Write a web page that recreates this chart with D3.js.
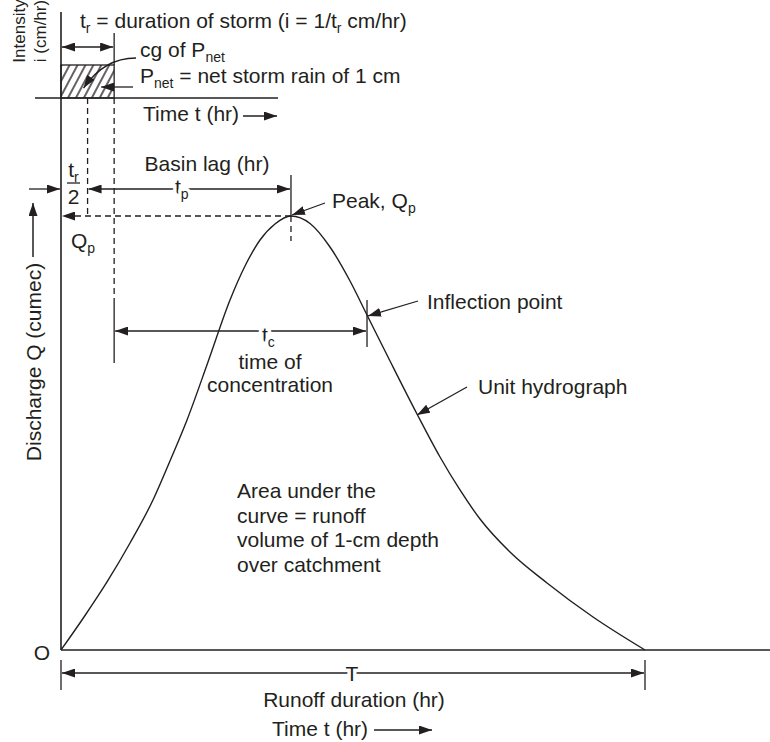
<!DOCTYPE html>
<html><head><meta charset="utf-8">
<script src="https://cdn.jsdelivr.net/npm/d3@7"></script>
<style>
body{margin:0;background:#fff}
svg{display:block}
text{font-family:"Liberation Sans",Arial,Helvetica,sans-serif;fill:#231f20}
</style>
</head><body><svg id="c" width="770" height="742"></svg>
<script>
// ---- data ----
const hydroT = [0, 3.94, 7.88, 11.82, 15.75, 18.66, 21.58, 25.17, 28.94, 31.51, 34.08, 36.64, 39.38,
  42.64, 46.06, 49.49, 52.40, 56.34, 60.96, 64.90, 68.32, 71.75, 76.88, 83.22, 91.10, 100];
const hydroQ = [0, 7.60, 15.67, 24.65, 34.56, 43.55, 53.00, 66.36, 80.65, 88.48, 94.47, 98.16, 100,
  98.27, 92.86, 85.02, 77.19, 66.59, 54.38, 44.47, 36.87, 30.18, 22.58, 15.44, 7.60, 0];
const stormDuration = 9.1;      // t_r
const stormIntensity = 1;       // i = 1/t_r
const peakTime = 39.38;
const peakQ = 100;
const inflectionTime = 52.4;
const inflectionQ = 77.19;
const runoffDuration = 100;     // T
const areaLines = ["Area under the", "curve = runoff", "volume of 1-cm depth", "over catchment"];

// ---- scales ----
const x = d3.scaleLinear().domain([0, 100]).range([61, 645]);
const yQ = d3.scaleLinear().domain([0, 100]).range([650, 216]);
const yI = d3.scaleLinear().domain([0, 1]).range([98, 65]);

const INK = "#231f20";
const FS = 21;
const svg = d3.select("#c");
const defs = svg.append("defs");
defs.append("marker").attr("id", "ah")
  .attr("viewBox", "0 0 13 9").attr("refX", 13).attr("refY", 4.5)
  .attr("markerWidth", 13).attr("markerHeight", 9)
  .attr("markerUnits", "userSpaceOnUse").attr("orient", "auto-start-reverse")
  .append("path").attr("d", "M0,0L13,4.5L0,9Z").attr("fill", INK);
const pat = defs.append("pattern").attr("id", "hatch")
  .attr("patternUnits", "userSpaceOnUse").attr("width", 7).attr("height", 10)
  .attr("patternTransform", "rotate(28)");
pat.append("line").attr("x1", 1).attr("y1", 0).attr("x2", 1).attr("y2", 10)
  .attr("stroke", INK).attr("stroke-width", 1.4);

function line(x1, y1, x2, y2, o = {}) {
  const l = svg.append("line").attr("x1", x1).attr("y1", y1).attr("x2", x2).attr("y2", y2)
    .attr("stroke", INK).attr("stroke-width", o.w || 1.3);
  if (o.dash) l.attr("stroke-dasharray", o.dash);
  if (o.start) l.attr("marker-start", "url(#ah)");
  if (o.end) l.attr("marker-end", "url(#ah)");
  return l;
}
function label(px, py, parts, o = {}) {
  const t = svg.append("text").attr("x", px).attr("y", py)
    .attr("font-size", o.size || FS).attr("text-anchor", o.anchor || "start");
  if (o.rotate) t.attr("transform", `rotate(${o.rotate},${px},${py})`);
  if (o.halo) t.attr("stroke", "#fff").attr("stroke-width", 7).attr("paint-order", "stroke").attr("stroke-linejoin", "round");
  let sub = false;
  parts.forEach(p => {
    const isSub = Array.isArray(p);
    const s = t.append("tspan").text(isSub ? p[0] : p);
    if (isSub && !sub) { s.attr("dy", 5).attr("font-size", 14); sub = true; }
    else if (isSub) { s.attr("font-size", 14); }
    else if (sub) { s.attr("dy", -5); sub = false; }
  });
  return t;
}

// ---- hyetograph (top) ----
const x0 = x(0), xr = x(stormDuration), xh = x(stormDuration / 2);
svg.append("rect").attr("x", x0).attr("y", yI(stormIntensity))
  .attr("width", xr - x0).attr("height", yI(0) - yI(stormIntensity))
  .attr("fill", "url(#hatch)").attr("stroke", INK).attr("stroke-width", 1.3);
line(35, yI(0), 278, yI(0), { w: 1.5 });
line(xr, 33, xr, yI(stormIntensity));
line(x0 + 1, 47, xr - 1, 47, { start: true, end: true });
label(80, 28, ["t", ["r"], " = duration of storm (i = 1/t", ["r"], " cm/hr)"]);
label(140, 57, ["cg of P", ["net"]]);
label(140, 83, ["P", ["net"], " = net storm rain of 1 cm"]);
label(143, 121, ["Time t (hr)"]);
line(243, 116, 277, 116, { end: true, w: 1.5 });
svg.append("path").attr("d", `M136,58 Q104,58 ${xh - 4},${yI(0.3)}`)
  .attr("fill", "none").attr("stroke", INK).attr("stroke-width", 1.3).attr("marker-end", "url(#ah)");
line(133, 87, xr - 13, 87, { end: true });
label(25, 31, ["Intensity"], { rotate: -90, anchor: "middle", size: 17 });
label(46, 31, ["i (cm/hr)"], { rotate: -90, anchor: "middle", size: 17 });

// ---- axes ----
line(x(0), 12, x(0), yQ(0), { w: 1.6 });
line(x(0), yQ(0), 770, yQ(0), { w: 1.6 });
label(50, 660, ["O"], { anchor: "end" });
label(41, 362, ["Discharge Q (cumec)"], { rotate: -90, anchor: "middle" });
line(33, 257, 33, 203, { end: true, w: 1.5 });

// ---- dashed guides ----
line(xh, yI(0), xh, yQ(peakQ), { dash: "6,4" });
line(xr, yI(0), xr, 300, { dash: "6,4" });
line(x(peakTime), yQ(peakQ), x0 + 1, yQ(peakQ), { dash: "6,4", end: true });
line(x(peakTime), yQ(peakQ), x(peakTime), 241, { dash: "6,4" });
line(x(peakTime), 175, x(peakTime), yQ(peakQ));

// ---- lag annotations ----
label(207, 171, ["Basin lag (hr)"], { anchor: "middle" });
line(29, 189, x0 - 1, 189, { end: true });
line(xh + 1, 189, x(peakTime) - 1, 189, { start: true, end: true });
label(175, 194, ["t", ["p"]], { halo: true });
label(73.5, 177, ["t", ["r"]], { anchor: "middle" });
line(67, 183, 80, 183, { w: 1.3 });
label(73.5, 204, ["2"], { anchor: "middle" });
label(71, 248, ["Q", ["p"]]);

// ---- hydrograph curve ----
const pts = hydroT.map((t, i) => [x(t), yQ(hydroQ[i])]);
svg.append("path").datum(pts)
  .attr("d", d3.line().curve(d3.curveMonotoneX))
  .attr("fill", "none").attr("stroke", INK).attr("stroke-width", 1.4);

// peak label
label(332, 208, ["Peak, Q", ["p"]]);
line(325, 203, x(peakTime) + 1, yQ(peakQ) - 1, { end: true });

// time of concentration
const xi = x(inflectionTime), yi = yQ(inflectionQ);
line(xr, 300, xr, 363);
line(xi, 300, xi, 347);
line(xr + 1, 331, xi - 1, 331, { start: true, end: true });
label(262, 342, ["t", ["c"]], { halo: true });
label(270, 369, ["time of"], { anchor: "middle" });
label(270, 392, ["concentration"], { anchor: "middle" });

// inflection
label(427, 309, ["Inflection point"]);
line(418, 301, xi + 1, yi + 1, { end: true });

// unit hydrograph
label(478, 394, ["Unit hydrograph"]);
line(467, 387, 417, 415, { end: true });

// area text
areaLines.forEach((s, i) => label(237, 498 + i * 24.5, [s]));

// ---- runoff duration ----
line(x(0), 660, x(0), 690);
line(x(runoffDuration), 660, x(runoffDuration), 690);
line(x(0) + 1, 673, x(runoffDuration) - 1, 673, { start: true, end: true });
label(352, 681, ["T"], { anchor: "middle", halo: true });
label(354, 707, ["Runoff duration (hr)"], { anchor: "middle" });
label(272, 736, ["Time t (hr)"]);
line(374, 730, 432, 730, { end: true, w: 1.5 });
</script></body></html>
